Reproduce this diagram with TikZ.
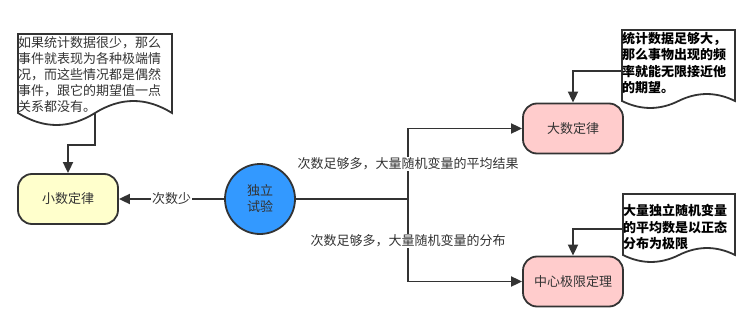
\documentclass[tikz,border=0pt]{standalone}
\usepackage{fontspec}
\newfontfamily\cjk{Noto Sans CJK SC}
\usetikzlibrary{arrows.meta}
\definecolor{strk}{HTML}{333333}
\definecolor{txt}{HTML}{333333}
\definecolor{yel}{HTML}{FFFFCC}
\definecolor{pnk}{HTML}{FFCCCC}
\definecolor{blu}{HTML}{3399FF}
\tikzset{
  every node/.style={font=\cjk\fontsize{13}{16}\selectfont, text=txt},
  lawbox/.style={draw=strk, line width=1.8pt, rounded corners=14pt, minimum width=100pt, minimum height=50pt, inner sep=0pt},
  trialcircle/.style={circle, draw=strk, line width=1.8pt, fill=blu, minimum size=70pt, inner sep=0pt, align=center},
  notepath/.style={draw=strk, line width=1.8pt, fill=white},
  notetext/.style={anchor=north west, inner sep=0pt, align=left},
  notebold/.style={notetext, text=black, font=\cjk\bfseries\fontsize{13}{16.5}\selectfont},
  conn/.style={draw=strk, line width=1.8pt},
  arr/.style={conn, -{Triangle[length=11pt,width=10pt]}},
  elabel/.style={fill=white, inner sep=1pt},
}
\begin{document}
\begin{tikzpicture}[x=1pt, y=-1pt]
\useasboundingbox (0,0) rectangle (750,329);

% nodes
\node[lawbox, fill=yel] (small) at (68,199) {小数定律};
\node[lawbox, fill=pnk] (big) at (573,128.5) {大数定律};
\node[lawbox, fill=pnk] (clt) at (573,281.5) {中心极限定理};
\node[trialcircle] (trial) at (260,199) {独立\\试验};

% notes (document shapes)
\path[notepath] (18,34) -- (172,34) -- (172,113)
  .. controls (146.3,97) and (120.7,97) .. (95,113)
  .. controls (69.3,129) and (43.7,129) .. (18,113) -- cycle;
\coordinate (noteL) at (95,113);
\node[notetext] (noteLtext) at (18,36) {如果统计数据很少，那么\\事件就表现为各种极端情\\况，而这些情况都是偶然\\事件，跟它的期望值一点\\关系都没有。};

\path[notepath] (622,30) -- (735,30) -- (735,101)
  .. controls (716.2,91.7) and (697.3,91.7) .. (678.5,101)
  .. controls (659.7,110.3) and (640.8,110.3) .. (622,101) -- cycle;
\coordinate (noteU) at (622,71);
\node[notebold] (noteUtext) at (622,32) {统计数据足够大，\\那么事物出现的频\\率就能无限接近他\\的期望。};

\path[notepath] (623,194) -- (735,194) -- (735,255)
  .. controls (716.3,245.7) and (697.7,245.7) .. (679,255)
  .. controls (660.3,264.3) and (641.7,264.3) .. (623,255) -- cycle;
\coordinate (noteD) at (623,229);
\node[notebold] (noteDtext) at (623,204) {大量独立随机变量\\的平均数是以正态\\分布为极限};

% connectors
\draw[arr] (trial) -- node[elabel] (lblfew) {次数少} (small);
\coordinate (split) at (408,199);
\draw[conn] (trial) -- (split);
\draw[arr] (split) |- (big.west);
\draw[arr] (split) |- (clt.west);
\node[elabel] (lblavg) at (408,164) {次数足够多，大量随机变量的平均结果};
\node[elabel] (lbldist) at (408,241) {次数足够多，大量随机变量的分布};

\draw[arr] (noteL) -- (95,145) -| (small.north);
\draw[arr] (noteU) -| (big.north);
\draw[arr] (noteD) -| (clt.north);
\end{tikzpicture}
\end{document}
